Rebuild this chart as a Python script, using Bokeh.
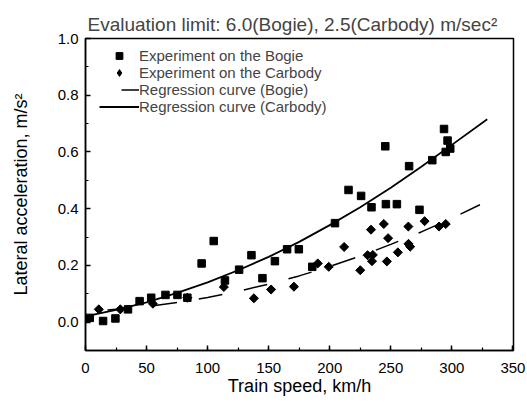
import math
from bokeh.plotting import figure
from bokeh.models import Range1d, SingleIntervalTicker, Legend, LegendItem, PrintfTickFormatter
from bokeh.embed import file_html
from bokeh.resources import INLINE

bogie_speed = [3.5, 14.4, 24.5, 34.8, 44.3, 53.8, 65.5, 75.3, 83.4, 95.1, 105.0, 114.2,
               125.8, 135.9, 144.9, 155.1, 165.1, 174.7, 185.7, 204.3, 215.4, 225.7,
               234.2, 246.0, 255.0, 273.5, 245.5, 265.0, 284.0, 293.6, 296.5, 295.0, 298.7]
bogie_acc = [0.015, 0.004, 0.013, 0.045, 0.074, 0.086, 0.096, 0.096, 0.086, 0.207, 0.286, 0.147,
             0.185, 0.236, 0.155, 0.215, 0.257, 0.257, 0.195, 0.349, 0.466, 0.445,
             0.405, 0.416, 0.416, 0.396, 0.620, 0.550, 0.571, 0.681, 0.640, 0.600, 0.612]

carbody_speed = [10.9, 28.5, 55.2, 83.4, 113.3, 137.9, 152.0, 170.7, 190.2, 199.2, 211.8,
                 225.0, 233.8, 244.3, 247.8, 231.0, 235.3, 234.6, 246.8, 255.8, 264.4,
                 264.5, 265.9, 277.7, 289.5, 295.0]
carbody_acc = [0.045, 0.045, 0.065, 0.086, 0.124, 0.084, 0.115, 0.125, 0.207, 0.195, 0.265,
               0.183, 0.326, 0.346, 0.296, 0.236, 0.237, 0.215, 0.214, 0.246, 0.337,
               0.276, 0.266, 0.356, 0.337, 0.346]

# Regression curves
upper_speed = [0, 25, 50, 75, 100, 125, 150, 175, 200, 225, 250, 275, 300, 329]
upper_acc = [0.020, 0.043, 0.070, 0.103, 0.140, 0.183, 0.230, 0.283, 0.342, 0.405, 0.474,
             0.548, 0.625, 0.715]
lower_speed = [0, 25, 50, 75, 100, 125, 150, 175, 200, 225, 250, 275, 300, 323]
lower_acc = [0.038, 0.045, 0.055, 0.069, 0.087, 0.109, 0.134, 0.163, 0.196, 0.233, 0.274,
             0.318, 0.366, 0.414]

title_text = "Evaluation limit: 6.0(Bogie), 2.5(Carbody) m/sec\u00b2"
x_label = "Train speed, km/h"
y_label = "Lateral acceleration, m/s\u00b2"
FONT = "Liberation Sans"

p = figure(width=527, height=402, output_backend="svg", toolbar_location=None,
           x_range=Range1d(0, 350.5), y_range=Range1d(-0.1, 1.0),
           min_border_left=85, min_border_right=14, min_border_top=38, min_border_bottom=52)

p.title.text = title_text
p.title.align = "left"
p.title.text_font = FONT
p.title.text_font_size = "19px"
p.title.text_font_style = "normal"
p.title.offset = 2
p.title.standoff = 7

p.xgrid.visible = False
p.ygrid.visible = False
p.outline_line_color = "black"
p.outline_line_width = 1.5

p.xaxis.ticker = SingleIntervalTicker(interval=50, num_minor_ticks=2)
p.yaxis.ticker = SingleIntervalTicker(interval=0.2, num_minor_ticks=2)
p.yaxis.formatter = PrintfTickFormatter(format="%.1f")
p.xaxis.axis_label = x_label
p.yaxis.axis_label = y_label

for ax in (p.xaxis[0], p.yaxis[0]):
    ax.major_tick_in = 5
    ax.major_tick_out = 0
    ax.minor_tick_in = 3
    ax.minor_tick_out = 0
    ax.axis_line_width = 1.5
    ax.major_tick_line_width = 1.5
    ax.minor_tick_line_width = 1.2
    ax.axis_line_color = "black"
    ax.major_tick_line_color = "black"
    ax.minor_tick_line_color = "black"
    ax.major_label_text_font = FONT
    ax.major_label_text_font_size = "15px"
    ax.major_label_text_color = "black"
    ax.axis_label_text_font = FONT
    ax.axis_label_text_font_size = "18px"
    ax.axis_label_text_font_style = "normal"
    ax.axis_label_text_color = "black"

p.xaxis.major_label_standoff = 12
p.xaxis.axis_label_standoff = 0
p.yaxis.major_label_standoff = 7
p.yaxis.axis_label_standoff = 24

r_bogie = p.scatter(bogie_speed, bogie_acc, marker="square", size=7.5,
                    fill_color="black", line_color="black")
# legend key for the carbody points (the legend draws markers unrotated);
# it sits hidden under the first carbody point
r_car_key = p.scatter(carbody_speed[:1], carbody_acc[:1], marker="diamond", size=8,
                      fill_color="black", line_color="black")
r_car = p.scatter(carbody_speed, carbody_acc, marker="square", angle=math.pi / 4, size=6.4,
                  fill_color="black", line_color="black")
r_upper = p.line(upper_speed, upper_acc, line_color="black", line_width=1.8)
r_lower = p.line(lower_speed, lower_acc, line_color="black", line_width=1.5,
                 line_dash="24 22", line_dash_offset=24)

legend = Legend(items=[
    LegendItem(label="Experiment on the Bogie", renderers=[r_bogie]),
    LegendItem(label="Experiment on the Carbody", renderers=[r_car_key]),
    LegendItem(label="Regression curve (Bogie)", renderers=[r_lower]),
    LegendItem(label="Regression curve (Carbody)", renderers=[r_upper]),
], location=(14, 235))
legend.border_line_color = None
legend.background_fill_alpha = 0
legend.label_text_font = FONT
legend.label_text_font_size = "15px"
legend.glyph_width = 40
legend.glyph_height = 17
legend.label_height = 17
legend.spacing = 0
legend.padding = 2
legend.margin = 0
legend.label_standoff = 0
p.add_layout(legend)

open("out.html", "w").write(file_html(p, INLINE))
